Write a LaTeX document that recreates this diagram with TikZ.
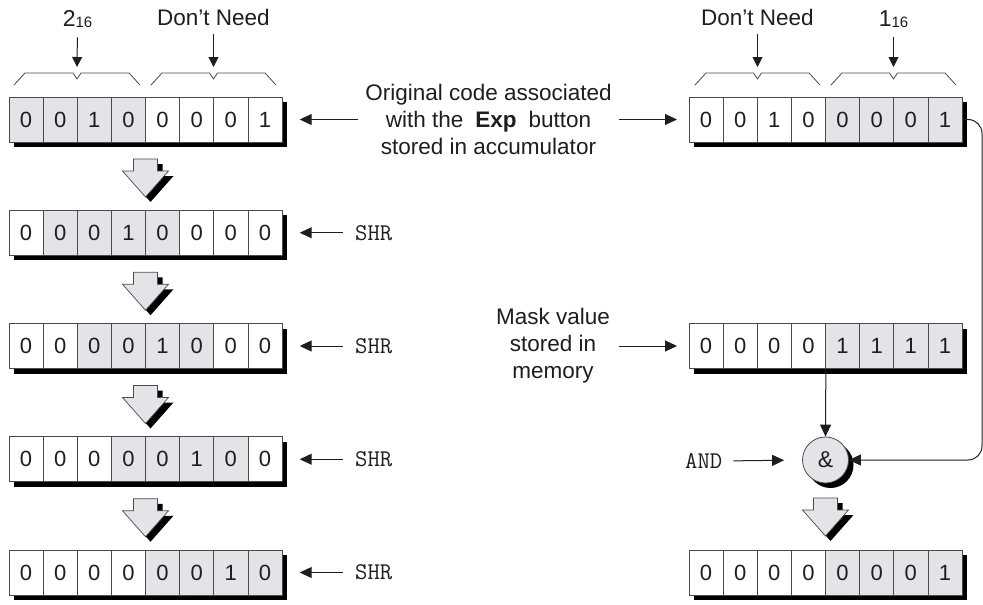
\documentclass[tikz,border=0pt]{standalone}
\usepackage{fontspec}
\setmainfont{Liberation Sans}
\usetikzlibrary{arrows.meta,shadows}
\definecolor{cellgray}{RGB}{226,228,232}
\definecolor{linegray}{RGB}{75,75,75}
\definecolor{ink}{RGB}{30,30,30}

\tikzset{
  regbox/.style={rectangle, minimum width=273pt, minimum height=45pt, inner sep=0pt,
    draw=linegray, line width=0.7pt, fill=white,
    drop shadow={fill=black, opacity=1, shadow xshift=5pt, shadow yshift=-5pt}},
  cellbox/.style={rectangle, minimum width=34.125pt, minimum height=45pt, inner sep=0pt,
    draw=linegray, line width=0.7pt, text=ink, font=\fontsize{22}{22}\selectfont},
  lbl/.style={inner sep=0pt, text=ink, font=\fontsize{22.5}{27}\selectfont},
  monolbl/.style={inner sep=0pt, text=ink, font=\ttfamily\fontsize{24}{24}\selectfont},
  harr/.style={draw=ink, line width=1pt, -{Triangle[length=12pt,width=11pt]}},
  varr/.style={draw=ink, line width=1pt, -{Triangle[length=10pt,width=10pt]}},
  bracepath/.style={draw=linegray, line width=0.8pt},
  opcircle/.style={circle, minimum size=46pt, inner sep=0pt, draw=linegray, line width=0.8pt,
    fill=cellgray, text=ink, font=\fontsize{23}{23}\selectfont,
    drop shadow={fill=black, opacity=1, shadow xshift=5pt, shadow yshift=-5pt}},
  blockfill/.style={fill=cellgray, draw=linegray, line width=0.7pt},
}

% name, x left, y center, first gray cell, bits
\newcommand\regrow[5]{%
  \node[regbox, anchor=west] (#1) at (#2,#3) {};
  \foreach \b [count=\i] in {#5} {
    \pgfmathtruncatemacro\gg{and(\i>=#4,\i<#4+4)}
    \ifnum\gg=1 \def\fc{cellgray}\else\def\fc{white}\fi
    \node[cellbox, fill=\fc] (#1-\i) at ({#2+(\i-0.5)*34.125},#3) {\b};
  }
}

% x center, y top
\newcommand\blockarr[2]{%
  \begin{scope}[shift={(#1+5,#2+5)}]
    \fill[black] (-12,0) -- (12,0) -- (12,12) -- (23,12) -- (0,38) -- (-23,12) -- (-12,12) -- cycle;
  \end{scope}
  \begin{scope}[shift={(#1,#2)}]
    \path[blockfill] (-12,0) -- (12,0) -- (12,12) -- (23,12) -- (0,38) -- (-23,12) -- (-12,12) -- cycle;
  \end{scope}
}

% x left, x right
\newcommand\bracetop[2]{%
  \path[bracepath] (#1,85) -- (#1+11,73) -- ({(#1+#2)/2-4},73) -- ({(#1+#2)/2},79)
    -- ({(#1+#2)/2+4},73) -- (#2-11,73) -- (#2,85);
}

\newcommand\subn[1]{{\fontsize{15}{15}\selectfont\raisebox{-1pt}{#1}}}

\begin{document}
\begin{tikzpicture}[x=1pt, y=-1pt]
\useasboundingbox (0,0) rectangle (983,605);

\coordinate (fbtop) at (982,119.5);
\coordinate (fbbot) at (982,460);

% left registers
\regrow{L1}{9}{119.5}{1}{0,0,1,0,0,0,0,1}
\regrow{L2}{9}{232.75}{2}{0,0,0,1,0,0,0,0}
\regrow{L3}{9}{346}{3}{0,0,0,0,1,0,0,0}
\regrow{L4}{9}{459.25}{4}{0,0,0,0,0,1,0,0}
\regrow{L5}{9}{572.5}{5}{0,0,0,0,0,0,1,0}

% right registers
\regrow{R1}{689}{119.5}{5}{0,0,1,0,0,0,0,1}
\regrow{R3}{689}{346}{5}{0,0,0,0,1,1,1,1}
\regrow{R5}{689}{572.5}{5}{0,0,0,0,0,0,0,1}

% block arrows
\blockarr{145.5}{159}
\blockarr{145.5}{272.25}
\blockarr{145.5}{385.5}
\blockarr{145.5}{498.75}
\blockarr{825.5}{498}

% braces
\bracetop{14}{140}
\bracetop{151}{276}
\bracetop{695}{820}
\bracetop{831}{956}
\coordinate (t1) at (77,67);
\coordinate (t2) at (213.5,67);
\coordinate (t3) at (757.5,67);
\coordinate (t4) at (893.5,67);

% top labels
\node[lbl, anchor=base] (lab2) at (77.5,27) {\fontsize{23}{23}\selectfont 2\subn{16}};
\node[lbl, anchor=base] (dn1) at (213.5,25) {Don't Need};
\node[lbl, anchor=base] (dn2) at (757.5,25) {Don't Need};
\node[lbl, anchor=base] (lab1) at (893.5,27) {\fontsize{23}{23}\selectfont 1\subn{16}};

\draw[varr, shorten <=9pt] (lab2.south) -- (t1);
\draw[varr, shorten <=9pt] (dn1.south) -- (t2);
\draw[varr, shorten <=9pt] (dn2.south) -- (t3);
\draw[varr, shorten <=9pt] (lab1.south) -- (t4);

% description texts
\node[lbl, align=center] (orig) at (488.5,119.5)
  {Original code associated\\with the\hskip 12pt\textbf{Exp}\hskip 12pt button\\stored in accumulator};
\node[lbl, align=center] (mask) at (553,346) {Mask value\\stored in\\memory};

\draw[harr, shorten <=7pt, shorten >=17pt] (orig.west) -- (L1.east);
\draw[harr, shorten <=7pt, shorten >=12pt] (orig.east) -- (R1.west);
\draw[harr, shorten <=9pt, shorten >=12pt] (mask.east) -- (R3.west);

% SHR labels
\node[monolbl, anchor=west] (s2) at (355,232.75) {SHR};
\node[monolbl, anchor=west] (s3) at (355,346) {SHR};
\node[monolbl, anchor=west] (s4) at (355,459.25) {SHR};
\node[monolbl, anchor=west] (s5) at (355,572.5) {SHR};
\draw[harr, shorten <=12pt, shorten >=17pt] (s2.west) -- (L2.east);
\draw[harr, shorten <=12pt, shorten >=17pt] (s3.west) -- (L3.east);
\draw[harr, shorten <=12pt, shorten >=17pt] (s4.west) -- (L4.east);
\draw[harr, shorten <=12pt, shorten >=17pt] (s5.west) -- (L5.east);

% AND operation
\node[opcircle] (and) at (825.5,460) {\&};
\node[monolbl, anchor=west] (andt) at (685,461) {AND};
\draw[harr, shorten <=11pt, shorten >=18pt] (andt.east) -- (and.west);
\draw[harr] (R3.south) -- (and.north);
\draw[harr, rounded corners=14pt] (R1.east) -- (fbtop) -- (fbbot) -- (and.east);
\end{tikzpicture}
\end{document}
